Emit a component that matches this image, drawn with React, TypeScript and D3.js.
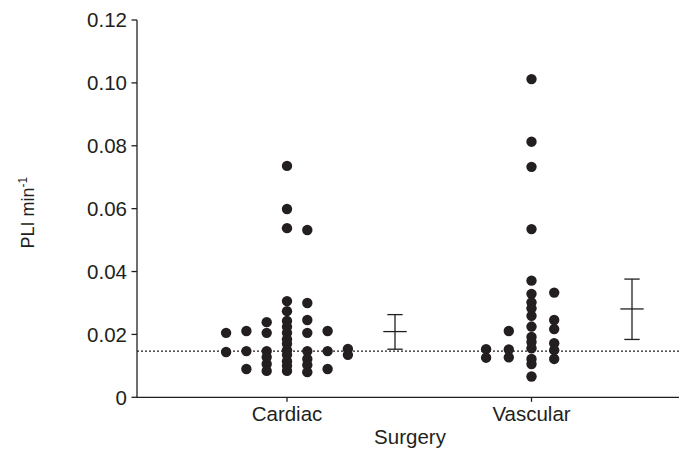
import * as d3 from "d3";

// values (PLI per minute), in the order they were plotted
const groups = ["Cardiac", "Vascular"];
const cardiac = [
  0.0736, 0.0599, 0.0538, 0.0532,
  0.0306, 0.03, 0.0274,
  0.0243, 0.0246, 0.0239, 0.0224,
  0.0205, 0.0205, 0.0205, 0.0211, 0.0211, 0.0205,
  0.0185, 0.017,
  0.015, 0.0147, 0.0147, 0.0147, 0.0147, 0.0144, 0.0154,
  0.0135, 0.0135,
  0.0115, 0.0122, 0.0128,
  0.01, 0.0103, 0.0106,
  0.0084, 0.008, 0.0084, 0.009, 0.009,
];
const vascular = [
  0.1012, 0.0813, 0.0733, 0.0535, 0.0371,
  0.0329, 0.0333, 0.0302, 0.0283, 0.0259, 0.0246,
  0.0225, 0.0217, 0.0211, 0.0192, 0.0176, 0.0172,
  0.0156, 0.015, 0.0152, 0.0153,
  0.0122, 0.0122, 0.0127, 0.0126,
  0.0106, 0.0066,
];
const means = [0.0209, 0.0281];
const lower = [0.0153, 0.0184];
const upper = [0.0263, 0.0376];
const refLine = 0.0147;
const yTicks = [0, 0.02, 0.04, 0.06, 0.08, 0.1, 0.12];
const yTickLabels = ["0", "0.02", "0.04", "0.06", "0.08", "0.10", "0.12"];

const W = 679;
const H = 450;
const left = 137;
const right = 679;
const ink = "#231f20";
const font = "'Liberation Sans', Arial, Helvetica, sans-serif";

const y = d3.scaleLinear().domain([0, 0.12]).range([397.3, 20]);
const x = d3.scalePoint<string>().domain(groups).range([287, 531.5]);
const colStep = [20.3, 22.7]; // horizontal spacing of the scatter columns
const barOffset = [108, 100.5]; // mean/SD bars sit to the right of each column

// column scatter: each dot goes to the first free column (0, +1, -1, -2, ...)
function scatter(values: number[], step: number) {
  const order = [0, 1, -1, -2, 2, -3, 3, -4, 4];
  const placed: { slot: number; py: number }[] = [];
  return values.map((v) => {
    const py = y(v);
    const slot =
      order.find((s) => !placed.some((p) => p.slot === s && Math.abs(p.py - py) < 4.5)) ?? 0;
    placed.push({ slot, py });
    return { v, py, dx: slot * step };
  });
}

export default function App() {
  const series = [cardiac, vascular];

  return (
    <svg
      width={W}
      height={H}
      style={{ position: "absolute", left: 0, top: 0, background: "#fff" }}
      fontFamily={font}
    >
      {/* reference line */}
      <line
        x1={left}
        x2={right}
        y1={y(refLine)}
        y2={y(refLine)}
        stroke={ink}
        strokeWidth={1.2}
        strokeDasharray="2 2"
      />

      {/* dots */}
      {series.map((vals, gi) =>
        scatter(vals, colStep[gi]).map((d, i) => (
          <circle key={gi + "-" + i} cx={x(groups[gi])! + d.dx} cy={d.py} r={5.2} fill={ink} />
        ))
      )}

      {/* mean ± SD */}
      {groups.map((g, gi) => {
        const bx = x(g)! + barOffset[gi];
        return (
          <g key={g} stroke={ink} strokeWidth={1.3}>
            <line x1={bx} x2={bx} y1={y(upper[gi])} y2={y(lower[gi])} />
            <line x1={bx - 7.7} x2={bx + 7.7} y1={y(upper[gi])} y2={y(upper[gi])} />
            <line x1={bx - 7.7} x2={bx + 7.7} y1={y(lower[gi])} y2={y(lower[gi])} />
            <line x1={bx - 11.7} x2={bx + 11.7} y1={y(means[gi])} y2={y(means[gi])} />
          </g>
        );
      })}

      {/* y axis */}
      <line x1={left} x2={left} y1={y(0.12)} y2={y(0)} stroke={ink} strokeWidth={1.3} />
      {yTicks.map((t, i) => (
        <g key={t} transform={`translate(${left},${y(t)})`}>
          <line x1={-5.5} x2={0} stroke={ink} strokeWidth={1.3} />
          <text x={-10} dy="0.36em" textAnchor="end" fontSize={20.5} fill={ink}>
            {yTickLabels[i]}
          </text>
        </g>
      ))}

      {/* x axis */}
      <line x1={left} x2={right} y1={y(0)} y2={y(0)} stroke={ink} strokeWidth={1.3} />
      {groups.map((g) => (
        <g key={g} transform={`translate(${x(g)},${y(0)})`}>
          <line y1={0} y2={4.5} stroke={ink} strokeWidth={1.3} />
          <text y={23.5} textAnchor="middle" fontSize={20.5} fill={ink}>
            {g}
          </text>
        </g>
      ))}

      <text x={(left + right) / 2 + 2} y={444} textAnchor="middle" fontSize={20.5} fill={ink}>
        Surgery
      </text>

      <text
        transform={`translate(33.5,${(y(0) + y(0.12)) / 2 + 4}) rotate(-90)`}
        textAnchor="middle"
        fontSize={18}
        fill={ink}
      >
        PLI min
        <tspan dy={-7} fontSize={12}>
          -1
        </tspan>
      </text>
    </svg>
  );
}
